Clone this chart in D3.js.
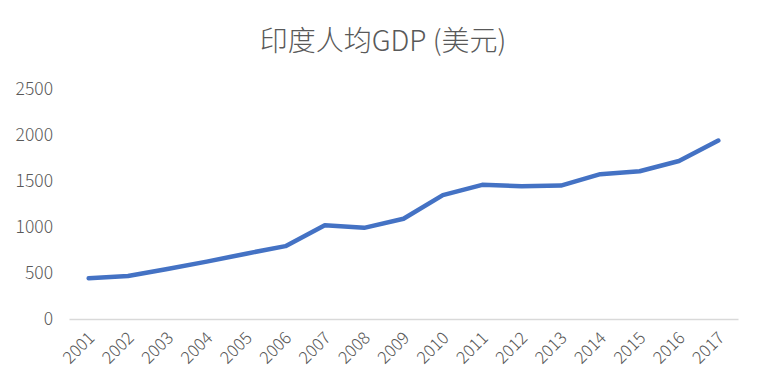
<!DOCTYPE html>
<html><head><meta charset="utf-8">
<script src="https://cdn.jsdelivr.net/npm/d3@7"></script>
<style>body{margin:0;background:#fff;}svg{display:block;}</style>
</head><body>
<svg id="c" width="765" height="390"></svg>
<script>
const title = "印度人均GDP (美元)";
const years = ["2001","2002","2003","2004","2005","2006","2007","2008","2009","2010","2011","2012","2013","2014","2015","2016","2017"];
const gdp = [443, 468, 544, 624, 710, 792, 1018, 991, 1090, 1346, 1458, 1444, 1450, 1574, 1606, 1717, 1940];
const yTicks = [0, 500, 1000, 1500, 2000, 2500];

const svg = d3.select("#c");
const font = "'Noto Sans CJK SC', 'Noto Sans', sans-serif";
const m = {left: 69, right: 738, top: 89, bottom: 319};

const x = d3.scaleBand().domain(years).range([m.left, m.right]);
const y = d3.scaleLinear().domain([0, 2500]).range([m.bottom, m.top]);

svg.append("text").attr("x", 383).attr("y", 51).attr("text-anchor", "middle")
  .attr("font-family", font).attr("font-size", 28).attr("font-weight", 300)
  .attr("fill", "#595959").text(title);

// y axis labels
const ya = svg.append("g").attr("transform", `translate(${m.left},0)`)
  .call(d3.axisLeft(y).tickValues(yTicks).tickSize(0).tickPadding(16).tickFormat(d3.format("d")));
ya.select(".domain").remove();
ya.selectAll("text").attr("font-family", font).attr("font-size", 17.5).attr("font-weight", 300).attr("fill", "#595959");

// x axis
const xa = svg.append("g").attr("transform", `translate(0,${m.bottom})`)
  .call(d3.axisBottom(x).tickSize(0).tickPadding(0));
xa.select(".domain").attr("stroke", "#d9d9d9").attr("stroke-width", 1.5);
xa.selectAll("text").attr("font-family", font).attr("font-size", 17).attr("font-weight", 300).attr("fill", "#595959")
  .attr("text-anchor", "end").attr("dy", null).attr("y", 0)
  .attr("transform", "translate(7,20) rotate(-45)");

const line = d3.line().x((d, i) => x(years[i]) + x.bandwidth() / 2).y(d => y(d));
svg.append("path").datum(gdp).attr("d", line).attr("fill", "none")
  .attr("stroke", "#4472C4").attr("stroke-width", 4.5)
  .attr("stroke-linejoin", "round").attr("stroke-linecap", "round");
</script>
</body></html>
